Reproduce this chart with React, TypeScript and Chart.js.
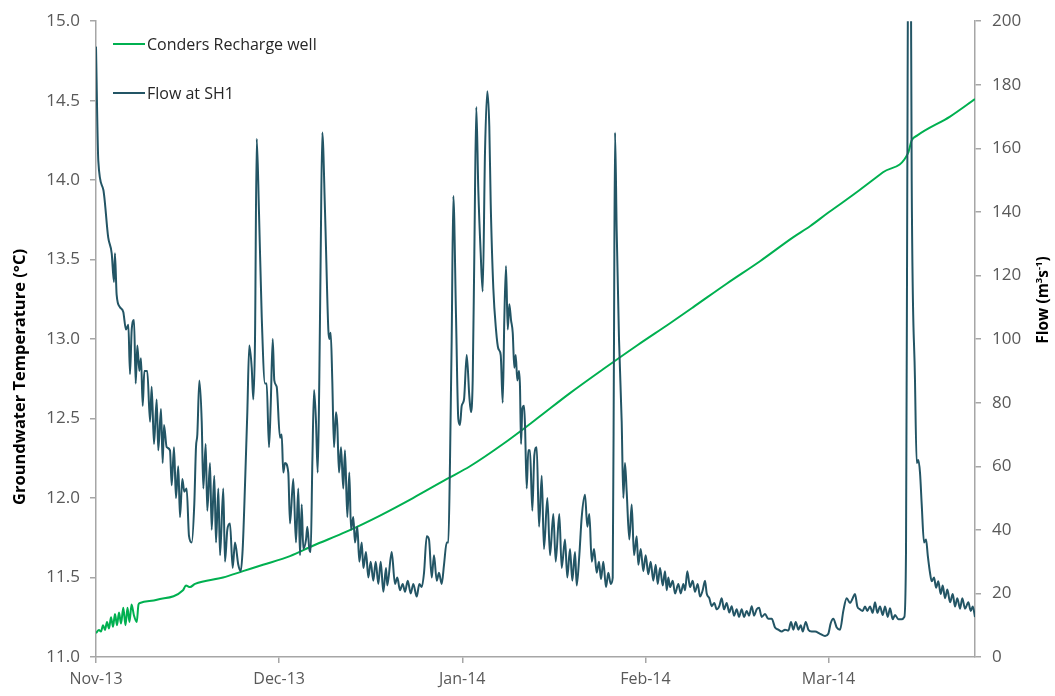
import React, { useEffect, useRef } from "react";
import { Chart, registerables } from "chart.js";

Chart.register(...registerables);

// x axis: days since 1 Nov 2013 (axis ticks every 30 days)
const xTickDays = [0, 30, 60, 90, 120];
const xTickLabels = ["Nov-13", "Dec-13", "Jan-14", "Feb-14", "Mar-14"];

const tempDays = [
  0, 0.49, 0.82, 1.15, 1.47, 1.8, 2.13, 2.46, 2.79, 3.11, 3.44, 3.77, 4.1, 4.47, 4.83, 5.16, 5.49, 5.82,
  6.23, 6.67, 6.96, 7.21, 9.99, 14.25, 14.74, 15.4, 16.22, 20.81, 24.08, 27.36, 31.78, 35.55, 41.12,
  46.53, 51.93, 57.5, 61.27, 66.68, 72.25, 77.65, 83.06, 88.63, 94.04, 97.8, 103.37, 108.78, 114.19,
  116.97, 119.76, 123.03, 125.16, 128.93, 133.03, 133.63, 134.5, 139.91, 144,
];
const tempValues = [
  11.15, 11.17, 11.16, 11.2, 11.17, 11.22, 11.18, 11.25, 11.19, 11.27, 11.2, 11.28, 11.21, 11.31, 11.2,
  11.31, 11.22, 11.33, 11.26, 11.22, 11.33, 11.34, 11.36, 11.42, 11.45, 11.44, 11.46, 11.5, 11.54, 11.58,
  11.635, 11.7, 11.79, 11.89, 12.0, 12.12, 12.2, 12.34, 12.5, 12.66, 12.81, 12.96, 13.1, 13.2, 13.35,
  13.49, 13.64, 13.71, 13.79, 13.88, 13.94, 14.05, 14.17, 14.25, 14.28, 14.4, 14.51,
];

const flowDays = [
  0, 0.38, 1.2, 2.0, 2.57, 2.95, 3.1, 3.38, 3.93, 4.47, 4.91, 5.3, 5.57, 5.85, 6.23, 6.5, 6.77, 7.1, 7.37,
  7.65, 7.92, 8.4, 8.85, 9.12, 9.5, 9.94, 10.2, 10.65, 10.92, 11.14, 11.58, 12.12, 12.4, 12.78, 13.1,
  13.48, 13.76, 14.14, 14.47, 14.85, 15.24, 15.68, 16.1, 16.38, 16.6, 16.93, 17.32, 17.58, 17.97, 18.23,
  18.68, 18.95, 19.38, 19.66, 20.04, 20.32, 20.85, 21.13, 21.51, 21.95, 22.39, 22.77, 23.31, 23.71, 24.03,
  24.41, 24.79, 25.11, 25.51, 25.77, 26.05, 26.33, 26.7, 27.15, 27.69, 27.96, 28.34, 28.62, 28.95, 29.21,
  29.6, 30.14, 30.42, 30.68, 30.96, 31.5, 31.78, 32.32, 32.76, 33.14, 33.42, 33.7, 33.96, 34.41, 34.62,
  34.94, 35.17, 35.44, 35.72, 36.04, 36.32, 36.58, 36.81, 37.07, 37.52, 38.06, 38.22, 38.45, 38.71, 38.99,
  39.32, 39.53, 39.81, 40.14, 40.51, 40.79, 41.17, 41.5, 41.78, 42.15, 42.43, 42.81, 43.14, 43.53, 43.8,
  44.23, 44.61, 45.0, 45.43, 45.82, 46.25, 46.64, 47.07, 47.51, 47.72, 48.44, 48.98, 49.36, 49.8, 50.25,
  50.62, 51.07, 51.56, 51.98, 52.54, 52.97, 53.36, 53.74, 54.18, 54.55, 55.0, 55.37, 55.82, 56.19, 56.63,
  57.01, 57.45, 57.72, 57.99, 58.27, 58.54, 58.98, 59.35, 59.63, 59.91, 60.29, 60.73, 61.16, 61.43, 61.71,
  61.98, 62.3, 62.63, 63.02, 63.35, 63.73, 64.1, 64.43, 64.66, 65.09, 65.53, 65.91, 66.3, 66.63, 66.89,
  67.17, 67.45, 67.71, 67.99, 68.27, 68.53, 68.76, 69.02, 69.3, 69.46, 69.63, 69.84, 70.12, 70.28, 70.56,
  70.82, 71.1, 71.48, 71.81, 72.2, 72.58, 73.02, 73.39, 73.94, 74.38, 74.92, 75.31, 75.9, 76.29, 76.83,
  77.21, 77.65, 78.03, 78.47, 78.75, 79.18, 79.57, 80.11, 80.49, 80.82, 81.21, 81.59, 82.03, 82.4, 82.73,
  83.11, 83.55, 83.93, 84.32, 84.65, 84.86, 85.03, 85.3, 85.68, 86.12, 86.39, 86.66, 86.94, 87.37, 87.76,
  88.14, 88.58, 88.84, 89.24, 89.66, 90.05, 90.48, 90.87, 91.3, 91.69, 92.02, 92.4, 92.84, 93.22, 93.5,
  93.76, 94.04, 94.48, 94.86, 95.4, 95.79, 96.22, 96.5, 96.87, 97.31, 97.75, 98.13, 98.57, 98.95, 99.39,
  99.77, 100.05, 100.47, 100.87, 101.29, 101.69, 102.11, 102.5, 102.88, 103.32, 103.75, 104.14, 104.52,
  104.96, 105.34, 105.78, 106.16, 106.6, 106.98, 107.42, 107.8, 108.24, 108.62, 109.06, 109.6, 110.14,
  110.7, 111.24, 111.78, 112.34, 112.88, 113.43, 113.86, 114.24, 114.63, 115.06, 115.45, 115.78, 116.27,
  116.7, 117.25, 117.79, 118.61, 119.43, 119.97, 120.36, 120.79, 121.35, 121.89, 122.43, 122.98, 123.53,
  123.97, 124.34, 124.72, 125.16, 125.6, 125.98, 126.36, 126.8, 127.24, 127.62, 128.0, 128.44, 128.88,
  129.26, 129.7, 130.08, 130.52, 130.9, 131.44, 131.99, 132.42, 132.7, 132.91, 133.2, 133.47, 133.63,
  134.17, 134.45, 134.71, 134.99, 135.27, 135.65, 135.98, 136.26, 136.63, 136.91, 137.29, 137.62, 137.99,
  138.38, 138.71, 139.09, 139.47, 139.91, 140.35, 140.73, 141.1, 141.55, 141.92, 142.36, 142.91, 143.3,
  143.63, 144,
];
const flowValues = [
  192, 156, 147, 132, 127, 118, 127, 114, 110, 108.5, 103, 104.5, 89, 103, 106, 86, 98, 90, 94,
  79, 90, 90, 74, 85, 67, 81, 65, 78, 61, 73, 66, 65, 54, 66, 50,
  60, 44, 56, 52, 53, 38, 36, 48, 66, 70, 87, 74, 53, 67, 46,
  61, 40, 57, 36, 53, 32, 53, 30, 40, 42, 28, 36, 29, 27, 34,
  54, 77, 98, 91, 81, 100, 163, 140, 107, 86, 86, 66, 79, 100, 87,
  85, 69, 70, 58, 61, 58, 42, 56, 36, 53, 32, 48, 34, 37, 41,
  34, 33, 61, 84, 74, 58, 87, 127, 165, 140, 103, 100, 102, 87, 66,
  77, 73, 58, 66, 53, 65, 44, 58, 40, 44, 36, 41, 30, 36, 28,
  33, 25, 30, 24, 30, 23, 30, 20.5, 28, 22.5, 33, 23, 25, 21, 23,
  20.5, 24, 20, 23, 19, 23, 22, 26.5, 38, 37, 25, 32, 24, 26.5, 23,
  29, 36, 36, 61, 100, 145, 107, 75, 73, 79, 81, 95, 82, 77, 87,
  127, 173, 147, 127, 115, 159, 178, 167, 143, 116, 103, 97, 95, 80, 106,
  123, 103, 111, 106, 102, 91, 95, 87, 90, 85, 67, 78, 79, 73, 53,
  65, 65, 46, 63.5, 66, 41, 57, 34, 50, 32, 45, 30, 45, 28, 37,
  25, 34, 24, 33, 22.5, 32, 44, 51, 41, 45, 30, 34, 26.5, 30, 24.5,
  30, 22, 26.5, 23, 25, 100, 165, 134, 100, 74, 50, 61, 52, 37, 48,
  32, 38, 29, 34, 27, 32, 26, 30, 24, 29, 23, 28, 22.5, 27, 21,
  25, 22, 24, 20, 23, 20, 23, 21, 27, 22, 24, 20.5, 23, 19, 21,
  24, 20, 18.5, 16, 17, 15, 16, 18.5, 15, 17, 14, 16, 13,
  15, 12.6, 15, 12.6, 14.5, 13, 16, 13, 15, 15.5, 12.6, 13.5, 12,
  12, 9.3, 8.6, 8, 8.6, 8.3, 11, 8.6, 11, 8.6, 10, 8, 11,
  8.6, 8, 8, 7.3, 6.6, 7.3, 10.6, 12, 9.3, 8.6, 14.5, 18.5, 17,
  18.5, 19.8, 15.9, 15, 14.5, 15.9, 14.5, 15.9, 13.9, 17.2, 13.9, 15.9, 13.2,
  15.9, 12.6, 15.3, 11.9, 13.2, 11.9, 11.9, 12.6, 34, 150, 290, 230, 150,
  87, 61, 62, 58, 48, 36, 37, 32, 26.5, 23.8, 25, 21.8, 23.8,
  19.8, 22.5, 18.5, 21.2, 17.2, 19.8, 15.9, 18.5, 15.2, 18.5, 15.2, 17.2, 14.5,
  15.9, 12.6,
];

const GREEN = "#00b050";
const FLOW = "#235565";
const AXIS = "#a6a6a6";
const TICK_COLOR = "#595959";
const FONT = "'Open Sans', 'DejaVu Sans', sans-serif";
const LEFT_TITLE = "Groundwater Temperature (°C)";

export default function App() {
  const ref = useRef<HTMLCanvasElement | null>(null);

  useEffect(() => {
    if (!ref.current) return;

    const overlay = {
      id: "overlay",
      afterDraw(chart: any) {
        const ctx = chart.ctx as CanvasRenderingContext2D;
        const ds = chart.data.datasets;
        // legend
        ctx.save();
        ctx.font = `16px ${FONT}`;
        ctx.textBaseline = "middle";
        ctx.textAlign = "left";
        const rows = [
          { y: 44, label: ds[1].label, color: ds[1].borderColor },
          { y: 93, label: ds[0].label, color: ds[0].borderColor },
        ];
        for (const r of rows) {
          ctx.strokeStyle = r.color;
          ctx.lineWidth = 2;
          ctx.beginPath();
          ctx.moveTo(113, r.y);
          ctx.lineTo(145, r.y);
          ctx.stroke();
          ctx.fillStyle = "#262626";
          ctx.fillText(r.label, 147, r.y + 1);
        }
        ctx.restore();

        // left axis title
        ctx.save();
        ctx.translate(20, 377);
        ctx.rotate(-Math.PI / 2);
        ctx.fillStyle = "#000";
        ctx.textBaseline = "middle";
        ctx.textAlign = "center";
        ctx.font = `bold 16.5px ${FONT}`;
        ctx.fillText(LEFT_TITLE, 0, 0);
        ctx.restore();

        // right axis title, reading bottom-to-top
        ctx.save();
        ctx.translate(1044, 300);
        ctx.rotate(-Math.PI / 2);
        ctx.fillStyle = "#000";
        ctx.textBaseline = "middle";
        ctx.textAlign = "left";
        const big = `bold 15.5px ${FONT}`;
        const small = `bold 9.5px ${FONT}`;
        const parts = [
          { t: "Flow (m", f: big, dy: 0 },
          { t: "3", f: small, dy: -5 },
          { t: "s", f: big, dy: 0 },
          { t: "-1", f: small, dy: -5 },
          { t: ")", f: big, dy: 0 },
        ];
        let total = 0;
        for (const p of parts) {
          ctx.font = p.f;
          total += ctx.measureText(p.t).width;
        }
        let x = -total / 2;
        for (const p of parts) {
          ctx.font = p.f;
          ctx.fillText(p.t, x, p.dy);
          x += ctx.measureText(p.t).width;
        }
        ctx.restore();
      },
    };

    const chart = new Chart(ref.current, {
      type: "line",
      data: {
        datasets: [
          {
            label: "Flow at SH1",
            data: flowDays.map((d, i) => ({ x: d, y: flowValues[i] })),
            yAxisID: "y1",
            borderColor: FLOW,
            borderWidth: 2,
            pointRadius: 0,
            cubicInterpolationMode: "monotone",
            order: 0,
          },
          {
            label: "Conders Recharge well",
            data: tempDays.map((d, i) => ({ x: d, y: tempValues[i] })),
            yAxisID: "y",
            borderColor: GREEN,
            borderWidth: 2,
            pointRadius: 0,
            cubicInterpolationMode: "monotone",
            order: 1,
          },
        ],
      },
      options: {
        responsive: false,
        animation: false,
        events: [],
        layout: { padding: { top: 20, left: 0, right: 0, bottom: 0 } },
        plugins: { legend: { display: false }, tooltip: { enabled: false } },
        scales: {
          x: {
            type: "linear",
            min: 0,
            max: 144,
            position: "bottom",
            grid: { display: true, drawOnChartArea: false, drawTicks: true, tickLength: 6, color: AXIS, lineWidth: 1.5 },
            border: { display: true, color: AXIS, width: 1.5 },
            ticks: {
              autoSkip: false,
              maxRotation: 0,
              padding: 7,
              color: TICK_COLOR,
              font: { family: FONT, size: 16 },
              callback: (v: any) => {
                const i = xTickDays.indexOf(Number(v));
                return i >= 0 ? xTickLabels[i] : "";
              },
            },
            afterBuildTicks: (s: any) => {
              s.ticks = xTickDays.map((v) => ({ value: v }));
            },
            afterFit: (s: any) => {
              s.height = 39;
            },
          },
          y: {
            type: "linear",
            position: "left",
            min: 11,
            max: 15,
            grid: { display: true, drawOnChartArea: false, drawTicks: true, tickLength: 6, color: AXIS, lineWidth: 1.5 },
            border: { display: true, color: AXIS, width: 1.5 },
            ticks: {
              stepSize: 0.5,
              padding: 10,
              color: TICK_COLOR,
              font: { family: FONT, size: 17 },
              callback: (v: any) => Number(v).toFixed(1),
            },
            afterFit: (s: any) => {
              s.width = 96;
            },
          },
          y1: {
            type: "linear",
            position: "right",
            min: 0,
            max: 200,
            grid: { display: true, drawOnChartArea: false, drawTicks: true, tickLength: 6, color: AXIS, lineWidth: 1.5 },
            border: { display: true, color: AXIS, width: 1.5 },
            ticks: {
              stepSize: 20,
              padding: 11,
              color: TICK_COLOR,
              font: { family: FONT, size: 17 },
            },
            afterFit: (s: any) => {
              s.width = 80;
            },
          },
        },
      },
      plugins: [overlay],
    });

    return () => chart.destroy();
  }, []);

  return (
    <div style={{ position: "fixed", left: 0, top: 0, width: 1055, height: 696, background: "#fff" }}>
      <canvas ref={ref} width={1055} height={696} style={{ width: 1055, height: 696, display: "block" }} />
    </div>
  );
}
